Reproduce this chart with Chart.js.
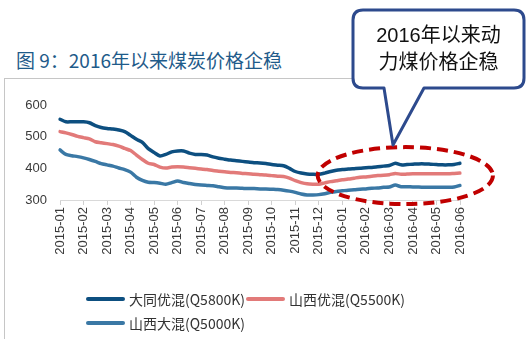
<!DOCTYPE html>
<html>
<head>
<meta charset="utf-8">
<script src="https://cdn.jsdelivr.net/npm/chart.js@4/dist/chart.umd.min.js"></script>
<style>
  html, body { margin: 0; padding: 0; background: #fff; }
  #wrap { position: relative; width: 529px; height: 339px; overflow: hidden; background: #fff; }
  #chartBox { position: absolute; left: 0; top: 0; width: 529px; height: 339px; }
  .frameTop { position: absolute; left: 4px; top: 78px; width: 352px; height: 1px; background: #c6c6c6; }
  .frameLeft { position: absolute; left: 4px; top: 78px; width: 1px; height: 261px; background: #c6c6c6; }
  #title { position: absolute; left: 16px; top: 47px; font: 19px "Noto Sans CJK SC", sans-serif; color: #1f5b8a; white-space: nowrap; line-height: 26px; }
  #callout { position: absolute; left: 0; top: 0; width: 529px; height: 339px; pointer-events: none; }
  .calloutText { position: absolute; left: 353px; width: 171px; text-align: center; font: 20px "Liberation Sans", "Noto Sans CJK SC", sans-serif; color: #111; line-height: 24px; white-space: nowrap; }
  .legItem { position: absolute; height: 20px; display: flex; align-items: center; white-space: nowrap; font: 14px "Noto Sans CJK SC", sans-serif; color: #333; }
  .legItem i { display: inline-block; width: 39px; height: 4px; border-radius: 2px; margin-right: 4px; }
</style>
</head>
<body>
<div id="wrap">
  <div class="frameTop"></div>
  <div class="frameLeft"></div>
  <div id="title">图 9：2016年以来煤炭价格企稳</div>
  <div id="chartBox"><canvas id="c"></canvas></div>
  <svg id="callout" width="529" height="339">
    <path d="M 363 10 H 514 Q 524 10 524 20 V 78 Q 524 88 514 88 H 424 L 393 145 L 384 88 H 363 Q 353 88 353 78 V 20 Q 353 10 363 10 Z"
          fill="#fff" stroke="#2d4a8d" stroke-width="3" stroke-linejoin="round"/>
  </svg>
  <div class="calloutText" style="top:23px">2016年以来动</div>
  <div class="calloutText" style="top:50px">力煤价格企稳</div>
  <div id="legend"></div>
</div>
<script>
// Months shown on the horizontal axis; prices are sampled four times a month.
const months = ['2015-01','2015-02','2015-03','2015-04','2015-05','2015-06','2015-07','2015-08','2015-09',
                '2015-10','2015-11','2015-12','2016-01','2016-02','2016-03','2016-04','2016-05','2016-06'];
const weeksPerMonth = 4;

// 大同优混 (Q5800K), 元/吨
const datongPremium = [
  555,547,547,547, 547,544,535,529, 526,524,521,516, 504,492,482,462,
  450,439,444,452, 455,455,448,444, 444,442,436,432, 429,426,424,422,
  420,418,417,415, 412,410,408,400, 390,385,382,381, 381,385,390,394,
  396,398,399,400, 402,403,405,407, 409,416,411,412, 413,414,414,413,
  412,411,411,412, 416
];
// 山西优混 (Q5500K)
const shanxiPremium = [
  516,512,507,501, 497,493,484,481, 478,475,470,463, 456,442,428,416,
  412,404,401,404, 405,404,402,400, 398,396,393,391, 389,387,386,384,
  383,381,380,379, 377,375,374,369, 361,355,351,350, 350,354,358,361,
  364,366,369,372, 373,375,377,378, 380,384,381,382, 383,383,383,383,
  383,383,383,384, 385
];
// 山西大混 (Q5000K)
const shanxiMixed = [
  458,444,440,437, 433,428,422,415, 411,407,401,396, 388,372,362,356,
  355,353,350,355, 360,355,352,349, 347,346,345,342, 339,338,338,337,
  336,336,335,335, 334,333,331,328, 324,319,316,316, 317,320,324,327,
  329,331,332,334, 335,337,338,340, 341,347,342,342, 341,341,340,340,
  340,340,340,341, 346
];

const seriesNames = ['大同优混(Q5800K)', '山西优混(Q5500K)', '山西大混(Q5000K)'];
const seriesColors = ['#0d4f80', '#e27a79', '#3a78a5'];

// Weekly category labels built from the month list (the final month has only its first sample).
const categories = [];
months.forEach((m, mi) => {
  const n = mi === months.length - 1 ? 1 : weeksPerMonth;
  for (let w = 0; w < n; w++) categories.push(m + ' W' + (w + 1));
});

// Dashed ring drawn around the 2016 part of the curves (category index / price units).
const ringCenterIndex = 58.7, ringHalfWidth = 14.9;
const ringLow = 287, ringHigh = 467;

const ringPlugin = {
  id: 'ring',
  afterDatasetsDraw(chart) {
    const { ctx, scales: { x, y } } = chart;
    const cx = x.getPixelForValue(ringCenterIndex);
    const rx = x.getPixelForValue(ringCenterIndex + ringHalfWidth) - cx;
    const top = y.getPixelForValue(ringHigh), bottom = y.getPixelForValue(ringLow);
    ctx.save();
    ctx.beginPath();
    ctx.ellipse(cx, (top + bottom) / 2, rx, (bottom - top) / 2, 0, 0, Math.PI * 2);
    ctx.setLineDash([11, 6]);
    ctx.lineWidth = 4;
    ctx.strokeStyle = '#c00000';
    ctx.stroke();
    ctx.restore();
  }
};

const tickFont = { family: '"Liberation Sans", Arial, sans-serif', size: 13 };

new Chart(document.getElementById('c'), {
  type: 'line',
  data: {
    labels: categories,
    datasets: [datongPremium, shanxiPremium, shanxiMixed].map((d, i) => ({
      label: seriesNames[i],
      data: d,
      borderColor: seriesColors[i],
      backgroundColor: seriesColors[i],
      borderWidth: 3.5,
      pointRadius: 0,
      tension: 0.25,
      borderCapStyle: 'round',
      borderJoinStyle: 'round'
    }))
  },
  options: {
    responsive: true,
    maintainAspectRatio: false,
    animation: false,
    layout: { padding: { top: 105, right: 69, left: 0, bottom: 0 } },
    plugins: { legend: { display: false }, tooltip: { enabled: false } },
    scales: {
      x: {
        grid: {
          display: true,
          drawOnChartArea: false,
          drawTicks: true,
          tickLength: 5,
          color: (c) => (c.index % weeksPerMonth === 0 ? '#d0d0d0' : 'rgba(0,0,0,0)')
        },
        border: { display: true, color: '#d9d9d9', width: 1 },
        ticks: {
          autoSkip: false,
          minRotation: 90,
          maxRotation: 90,
          padding: 2,
          color: '#3a3a3a',
          font: tickFont,
          callback: (v, i) => (i % weeksPerMonth === 0 ? months[i / weeksPerMonth] : '')
        },
        afterFit: (s) => { s.height = 139; }
      },
      y: {
        min: 300,
        max: 600,
        grid: { display: false, drawTicks: false },
        border: { display: false },
        ticks: { stepSize: 50, padding: 13, color: '#3a3a3a', font: tickFont },
        afterFit: (s) => { s.width = 60; }
      }
    }
  },
  plugins: [ringPlugin]
});

// Legend rows
const legendPos = [[86, 289], [246, 289], [86, 313]];
const legend = document.getElementById('legend');
seriesNames.forEach((name, i) => {
  const el = document.createElement('div');
  el.className = 'legItem';
  el.style.left = legendPos[i][0] + 'px';
  el.style.top = legendPos[i][1] + 'px';
  el.innerHTML = '<i style="background:' + seriesColors[i] + '"></i>' + name;
  legend.appendChild(el);
});
</script>
</body>
</html>
